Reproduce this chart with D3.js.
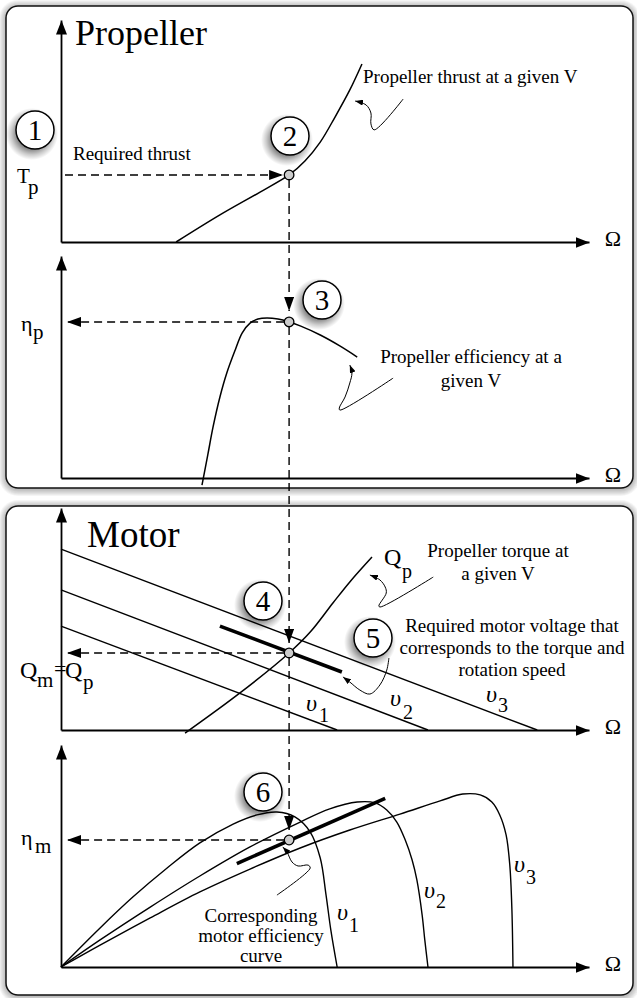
<!DOCTYPE html>
<html>
<head>
<meta charset="utf-8">
<script src="https://cdn.jsdelivr.net/npm/d3@7"></script>
</head>
<body style="margin:0">
<div id="chart"></div>
<script>
// All values are in percent of the axis length (Omega on x, the plotted quantity on y)

// Operating point
var omegaOp = 43.2;
var thrustOp = 30.2;
var etaPropOp = 70.3;
var torqueOp = 34.7;
var etaMotorOp = 57.2;

// Propeller thrust at a given V
var thrustOmega  = [21.8, 30.1, 37.7, 43.2, 46.2, 49.1, 51.9, 54.7, 57.0];
var thrustValues = [0, 12.2, 22.5, 30.2, 36.5, 45.0, 56.3, 68.5, 80.2];

// Propeller efficiency at a given V
var etaPropOmega  = [26.7, 27.8, 28.8, 30.1, 31.4, 33.0, 34.3, 35.8, 37.3, 39.0, 41.1, 43.2, 45.3, 49.1, 52.8, 56.1];
var etaPropValues = [-3.2, 10.4, 23.0, 36.5, 47.3, 57.7, 65.3, 69.8, 71.6, 72.1, 71.6, 70.3, 68.5, 64.4, 59.5, 54.5];

// Propeller torque at a given V
var torqueOmega  = [23.5, 33.9, 43.2, 47.2, 51.5, 54.7, 58.9];
var torqueValues = [-1.4, 16.7, 34.7, 44.1, 57.2, 66.7, 77.9];

// Motor torque lines for voltages v1, v2, v3
var voltageNames = ["1", "2", "3"];
var stallTorque  = [46.8, 63.1, 81.5];
var noLoadOmega  = [52.3, 69.5, 90.2];

// Required voltage segment (torque plane)
var reqVoltOmega  = [30.1, 53.2];
var reqVoltTorque = [46.8, 26.1];

// Motor efficiency curves
var eff1Omega  = [0, 7.4, 13.6, 20.1, 26.3, 32.6, 37.1, 40.9, 44.3, 47.2, 49.1, 50.2, 51.1, 52.3];
var eff1Values = [0, 17.6, 31.5, 44.6, 55.9, 64.4, 68.5, 69.8, 67.6, 60.8, 49.1, 32.4, 16.7, 0];
var eff2Omega  = [0, 7.4, 16.9, 26.3, 35.8, 45.3, 50.9, 56.1, 59.5, 61.7, 63.6, 65.2, 66.5, 67.4, 68.4, 68.9, 69.5];
var eff2Values = [0, 12.2, 27.0, 41.0, 54.1, 65.3, 71.2, 74.3, 73.9, 70.7, 65.3, 57.2, 48.2, 39.2, 23.4, 12.2, 0];
var eff3Omega  = [0, 7.4, 16.9, 26.3, 35.8, 45.3, 54.7, 64.2, 71.8, 76.1, 79.4, 81.6, 83.1, 84.3, 85.0, 85.4, 85.6];
var eff3Values = [0, 9.9, 22.1, 33.8, 44.1, 53.6, 61.7, 68.9, 74.8, 77.9, 77.5, 74.3, 68.5, 59.5, 45.9, 25.7, 0];

// Corresponding motor efficiency segment
var reqEffOmega  = [33.3, 61.4];
var reqEffValues = [46.6, 76.0];

// Leader squiggles (Omega, value)
var leaderThrust = [[64.8, 64.4], [59.3, 50.5], [58.7, 53.2], [58.7, 58.1], [57.8, 61.7], [55.7, 63.5]];
var leaderEtaProp = [[62.9, 45.0], [52.8, 30.6], [52.7, 31.5], [53.8, 36.5], [54.7, 42.8], [55.1, 47.3], [54.7, 50.9]];
var leaderTorque = [[70.5, 68.9], [60.4, 55.4], [60.2, 55.9], [61.6, 61.7], [61.4, 64.4], [60.4, 67.6], [58.5, 69.8]];
var leaderVolt = [[62.1, 32.4], [61.7, 27.0], [60.4, 20.3], [58.5, 16.2], [56.6, 18.0], [54.7, 21.6], [53.4, 23.9]];
var leaderEff = [[40.9, 32.4], [47.2, 44.6], [46.8, 45.9], [44.9, 45.5], [43.75, 47.3], [42.8, 51.8], [42.0, 54.1]];

var svgWidth = 637;
var svgHeight = 998;

var svg = d3.select("#chart")
  .append("svg")
  .attr("width", svgWidth)
  .attr("height", svgHeight);

var defs = svg.append("defs");

// Soft round shadow used under the numbered badges
var grad = defs.append("radialGradient").attr("id", "badgeShadow");
grad.append("stop").attr("offset", "0%").attr("stop-color", "#000").attr("stop-opacity", 0.5);
grad.append("stop").attr("offset", "60%").attr("stop-color", "#000").attr("stop-opacity", 0.45);
grad.append("stop").attr("offset", "80%").attr("stop-color", "#000").attr("stop-opacity", 0.2);
grad.append("stop").attr("offset", "100%").attr("stop-color", "#000").attr("stop-opacity", 0);

function addArrow(id, len, wid) {
  defs.append("marker")
    .attr("id", id)
    .attr("viewBox", "0 0 " + len + " " + wid)
    .attr("refX", len).attr("refY", wid / 2)
    .attr("markerWidth", len).attr("markerHeight", wid)
    .attr("markerUnits", "userSpaceOnUse")
    .attr("orient", "auto")
    .append("path")
    .attr("d", "M0,0L" + len + "," + (wid / 2) + "L0," + wid + "Z")
    .attr("fill", "#000");
}
addArrow("axisArrow", 14, 11);
addArrow("dashArrow", 14, 10);
addArrow("leadArrow", 8, 6);

// Panels with a layered soft shadow
function panel(px, py, w, h) {
  for (var i = 7; i >= 1; i--) {
    svg.append("rect")
      .attr("x", px - i).attr("y", py - i + 1)
      .attr("width", w + 2 * i).attr("height", h + 2 * i)
      .attr("rx", 12 + i)
      .attr("fill", "#000").attr("fill-opacity", 0.04);
  }
  svg.append("rect").attr("x", px).attr("y", py).attr("width", w).attr("height", h)
    .attr("rx", 12).attr("fill", "#fff").attr("stroke", "#111").attr("stroke-width", 1.5);
}
panel(6, 6, 627, 482);
panel(6, 506, 627, 489);

// Shared Omega scale
var x = d3.scaleLinear().domain([0, 100]).range([61, 589]);

// One y scale for each sub plot
var yThrust  = d3.scaleLinear().domain([0, 100]).range([242, 20]);
var yEtaProp = d3.scaleLinear().domain([0, 100]).range([478, 256]);
var yTorque  = d3.scaleLinear().domain([0, 100]).range([730, 508]);
var yEtaMot  = d3.scaleLinear().domain([0, 100]).range([967, 745]);

function drawAxes(yScale) {
  var bottom = svg.append("g")
    .attr("transform", "translate(0," + yScale(0) + ")")
    .call(d3.axisBottom(x).tickValues([]).tickSizeOuter(0))
    .attr("font-family", null).attr("font-size", null);
  bottom.select(".domain").attr("stroke-width", 1.8).attr("marker-end", "url(#axisArrow)");
  var left = svg.append("g")
    .attr("transform", "translate(" + x(0) + ",0)")
    .call(d3.axisLeft(yScale).tickValues([]).tickSizeOuter(0))
    .attr("font-family", null).attr("font-size", null);
  left.select(".domain").attr("stroke-width", 1.8).attr("marker-end", "url(#axisArrow)");
}
[yThrust, yEtaProp, yTorque, yEtaMot].forEach(drawAxes);

function curve(yScale, xs, ys, width, smooth) {
  var pts = xs.map((d, i) => [d, ys[i]]);
  var line = d3.line()
    .x(d => x(d[0]))
    .y(d => yScale(d[1]))
    .curve(smooth ? d3.curveCatmullRom.alpha(0.5) : d3.curveLinear);
  svg.append("path")
    .attr("d", line(pts))
    .attr("fill", "none")
    .attr("stroke", "#000")
    .attr("stroke-width", width)
    .attr("stroke-linejoin", "round");
}

// Propeller curves
curve(yThrust, thrustOmega, thrustValues, 1.5, true);
curve(yEtaProp, etaPropOmega, etaPropValues, 1.5, true);

// Motor torque lines and propeller torque
voltageNames.forEach(function(v, i) {
  curve(yTorque, [0, noLoadOmega[i]], [stallTorque[i], 0], 1.4, false);
});
curve(yTorque, torqueOmega, torqueValues, 1.5, true);
curve(yTorque, reqVoltOmega, reqVoltTorque, 3.6, false);

// Motor efficiency curves
curve(yEtaMot, eff1Omega, eff1Values, 1.4, true);
curve(yEtaMot, eff2Omega, eff2Values, 1.4, true);
curve(yEtaMot, eff3Omega, eff3Values, 1.4, true);
curve(yEtaMot, reqEffOmega, reqEffValues, 3.6, false);

// Dashed construction lines
function dashed(x1, y1, x2, y2) {
  svg.append("line")
    .attr("x1", x1).attr("y1", y1).attr("x2", x2).attr("y2", y2)
    .attr("stroke", "#000").attr("stroke-width", 1.4)
    .attr("stroke-dasharray", "8,5")
    .attr("marker-end", "url(#dashArrow)");
}
var xo = x(omegaOp);
dashed(x(0) + 4, yThrust(thrustOp), xo - 6, yThrust(thrustOp));
dashed(xo, yThrust(thrustOp) + 5, xo, yEtaProp(etaPropOp) - 11);
dashed(xo - 5, yEtaProp(etaPropOp), x(0) + 6, yEtaProp(etaPropOp));
dashed(xo, yEtaProp(etaPropOp) + 5, xo, yTorque(torqueOp) - 10);
dashed(xo - 5, yTorque(torqueOp), x(0) + 6, yTorque(torqueOp));
dashed(xo, yTorque(torqueOp) + 5, xo, yEtaMot(etaMotorOp) - 10);
dashed(xo - 5, yEtaMot(etaMotorOp), x(0) + 6, yEtaMot(etaMotorOp));

// Operating point markers
[[yThrust, thrustOp], [yEtaProp, etaPropOp], [yTorque, torqueOp], [yEtaMot, etaMotorOp]].forEach(function(p) {
  svg.append("circle")
    .attr("cx", xo).attr("cy", p[0](p[1])).attr("r", 4.8)
    .attr("fill", "#ccc").attr("stroke", "#000").attr("stroke-width", 1.3);
});

// Leader squiggles
function leader(yScale, pts) {
  var line = d3.line()
    .x(d => x(d[0]))
    .y(d => yScale(d[1]))
    .curve(d3.curveCatmullRom.alpha(0.5));
  svg.append("path")
    .attr("d", line(pts))
    .attr("fill", "none")
    .attr("stroke", "#000")
    .attr("stroke-width", 1)
    .attr("marker-end", "url(#leadArrow)");
}
leader(yThrust, leaderThrust);
leader(yEtaProp, leaderEtaProp);
leader(yTorque, leaderTorque);
leader(yTorque, leaderVolt);
leader(yEtaMot, leaderEff);

// Badge shadows and circles (the numbers go in the text layer)
var badges = [[35, 130, "1"], [290, 136, "2"], [322, 300, "3"], [263, 601, "4"], [373, 638, "5"], [263, 792, "6"]];
badges.forEach(function(b) {
  svg.append("circle")
    .attr("cx", b[0] - 3).attr("cy", b[1] + 4).attr("r", 26)
    .attr("fill", "url(#badgeShadow)");
  svg.append("circle")
    .attr("cx", b[0]).attr("cy", b[1]).attr("r", 19)
    .attr("fill", "#fff").attr("stroke", "#000").attr("stroke-width", 1.5);
});

// All texts live in one group that carries the serif face
var texts = svg.append("g")
  .attr("font-family", "Liberation Serif")
  .attr("fill", "#000");

function label(txt, px, py, size, anchor, italic) {
  var t = texts.append("text")
    .attr("x", px).attr("y", py)
    .attr("font-size", size)
    .attr("text-anchor", anchor || "start")
    .text(txt);
  if (italic) t.attr("font-style", "italic");
  return t;
}
function note(lines, px, py, step) {
  lines.forEach(function(l, i) {
    label(l, px, py + i * step, 19, "middle");
  });
}

badges.forEach(function(b) {
  label(b[2], b[0], b[1] + 10, 29, "middle");
});

// Omega labels on every horizontal axis
[yThrust, yEtaProp, yTorque, yEtaMot].forEach(function(s) {
  label("Ω", 613, s(0) + 4, 22, "middle");
});

// Titles
label("Propeller", 75, 45, 36);
label("Motor", 87, 547, 37);

// Axis symbols
label("T", 17, 183, 21);
label("p", 28, 194, 21);
label("η", 21, 331, 22);
label("p", 33, 339, 21);
label("Q", 20, 678, 24);
label("m", 37, 687, 21);
label("=", 54, 676, 22);
label("Q", 65, 678, 24);
label("p", 83, 689, 21);
label("η", 21, 845, 22);
label("m", 35, 853, 21);
label("Q", 384, 565, 24);
label("p", 402, 578, 20);

// Voltage labels
label("υ", 306, 711, 24, "start", true);
label("1", 319, 722, 20);
label("υ", 390, 706, 24, "start", true);
label("2", 403, 719, 20);
label("υ", 486, 702, 24, "start", true);
label("3", 498, 712, 20);
label("υ", 337, 920, 24, "start", true);
label("1", 349, 932, 20);
label("υ", 424, 898, 24, "start", true);
label("2", 436, 908, 20);
label("υ", 514, 872, 24, "start", true);
label("3", 526, 884, 20);

// Notes
label("Propeller thrust at a given V", 363, 83, 19);
label("Required thrust", 73, 160, 19);
note(["Propeller efficiency at a", "given V"], 471, 363, 24);
note(["Propeller torque at", "a given V"], 498, 557, 23);
note(["Required motor voltage that", "corresponds to the torque and", "rotation speed"], 512, 632, 22);
note(["Corresponding", "motor efficiency", "curve"], 261, 922, 20);
</script>
</body>
</html>
